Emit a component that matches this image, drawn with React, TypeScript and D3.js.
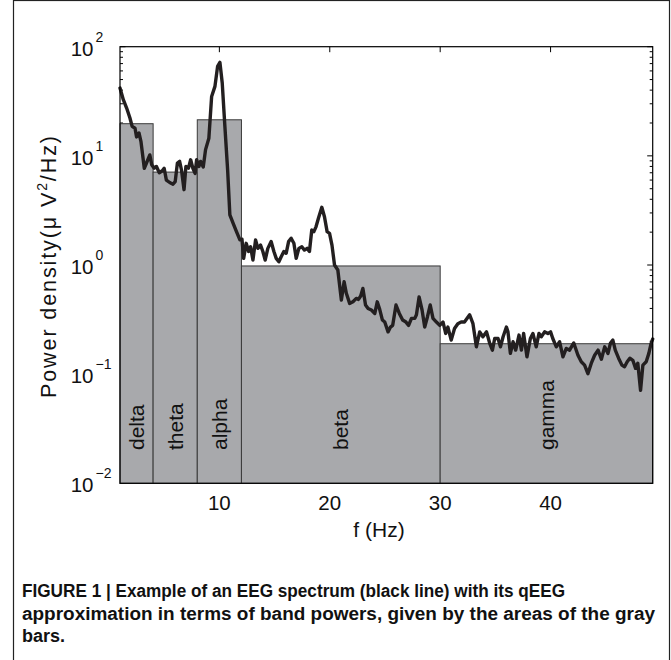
import React from "react";
import * as d3 from "d3";

// Spectrum (frequency in Hz, power density in µV²/Hz)
const freqs = [
  1.0, 1.3, 1.6, 1.9, 2.1, 2.36, 2.5, 2.72, 2.9, 3.2, 3.4, 3.7, 3.87, 4.1, 4.3, 4.56, 4.83, 5.0, 5.2, 5.5,
  5.8, 6.0, 6.2, 6.4, 6.57, 6.8, 6.97, 7.2, 7.4, 7.6, 7.8, 7.94, 8.15, 8.3, 8.54, 8.75, 9.05, 9.3, 9.6, 9.84,
  10.05, 10.26, 10.5, 10.75, 10.95, 11.25, 11.55, 11.86, 12.05, 12.2, 12.43, 12.65, 12.83, 13.04, 13.28, 13.49, 13.73, 13.94, 14.15, 14.39,
  14.69, 14.94, 15.15, 15.39, 15.6, 15.84, 16.05, 16.27, 16.5, 16.75, 16.96, 17.2, 17.47, 17.71, 17.95, 18.16, 18.37, 18.56, 18.76, 18.98,
  19.28, 19.52, 19.76, 19.98, 20.2, 20.43, 20.73, 21.05, 21.3, 21.5, 21.8, 22.1, 22.4, 22.6, 22.8, 23.0, 23.24, 23.47, 23.77, 24.08,
  24.3, 24.5, 24.77, 24.98, 25.28, 25.5, 25.7, 26.0, 26.3, 26.6, 26.9, 27.14, 27.4, 27.7, 27.85, 28.09, 28.36, 28.6, 28.85, 29.1,
  29.35, 29.66, 29.96, 30.26, 30.5, 30.7, 31.0, 31.3, 31.6, 31.9, 32.2, 32.67, 32.97, 33.28, 33.58, 33.87, 34.2, 34.5, 34.73, 34.94,
  35.24, 35.46, 35.7, 36.0, 36.14, 36.36, 36.6, 36.84, 37.14, 37.36, 37.56, 37.86, 38.17, 38.4, 38.7, 38.95, 39.16, 39.46, 39.76, 40.0,
  40.2, 40.52, 40.82, 41.12, 41.42, 41.72, 42.1, 42.48, 42.78, 43.08, 43.38, 43.69, 43.99, 44.3, 44.6, 44.9, 45.2, 45.43, 45.64, 45.86,
  46.16, 46.46, 46.7, 46.94, 47.18, 47.45, 47.7, 47.9, 48.15, 48.36, 48.66, 48.9, 49.1, 49.25,
];
const power = [
  41.8, 32.7, 27.4, 22.2, 18.6, 17.9, 14.9, 16.2, 13.5, 7.7, 8.6, 10.2, 8.3, 7.7, 8.0, 7.0, 7.3, 7.7, 6.0, 5.7,
  5.5, 5.8, 8.6, 8.9, 7.4, 4.9, 8.0, 7.7, 9.2, 7.7, 6.9, 9.2, 8.0, 8.9, 7.9, 11.4, 14.5, 35.0, 43.3, 66,
  71.8, 46.5, 18.6, 7.4, 2.88, 2.41, 2.02, 1.7, 1.72, 1.15, 1.58, 1.33, 1.47, 1.11, 1.7, 1.42, 1.52, 1.33, 1.11, 1.42,
  1.64, 1.33, 1.15, 1.07, 1.19, 1.33, 1.28, 1.64, 1.76, 1.58, 1.15, 1.42, 1.47, 1.37, 1.42, 1.33, 2.09, 2.02, 2.25, 2.69,
  3.38, 2.77, 2.02, 1.95, 1.52, 1.0, 0.9, 0.478, 0.703, 0.55, 0.445, 0.46, 0.494, 0.484, 0.52, 0.61, 0.43, 0.4, 0.387, 0.36,
  0.46, 0.4, 0.313, 0.3, 0.244, 0.27, 0.28, 0.43, 0.36, 0.313, 0.3, 0.28, 0.324, 0.324, 0.35, 0.51, 0.387, 0.27, 0.336, 0.43,
  0.324, 0.3, 0.28, 0.3, 0.236, 0.27, 0.205, 0.262, 0.29, 0.3, 0.3, 0.35, 0.29, 0.178, 0.244, 0.22, 0.244, 0.19, 0.166, 0.212,
  0.212, 0.178, 0.22, 0.27, 0.244, 0.155, 0.198, 0.166, 0.228, 0.166, 0.236, 0.144, 0.212, 0.236, 0.178, 0.236, 0.22, 0.244, 0.236, 0.244,
  0.212, 0.178, 0.198, 0.144, 0.172, 0.166, 0.193, 0.149, 0.13, 0.121, 0.101, 0.126, 0.149, 0.166, 0.137, 0.178, 0.155, 0.193, 0.205, 0.166,
  0.14, 0.121, 0.117, 0.13, 0.14, 0.134, 0.113, 0.126, 0.071, 0.121, 0.13, 0.155, 0.19, 0.21,
];

// qEEG band powers
const bandNames = ["delta", "theta", "alpha", "beta", "gamma"];
const bandStart = [1, 4, 8, 12, 30];
const bandEnd = [4, 8, 12, 30, 49.25];
const bandPower = [19.7, 7.1, 21.4, 0.98, 0.19];

const xTicks = [10, 20, 30, 40];
const yExponents = [-2, -1, 0, 1, 2];

const captionLines = [
  "FIGURE 1 | Example of an EEG spectrum (black line) with its qEEG",
  "approximation in terms of band powers, given by the areas of the gray",
  "bars.",
];

const FONT = "'Liberation Sans', Arial, Helvetica, sans-serif";

export default function App() {
  const W = 671;
  const H = 660;
  const left = 120;
  const right = 652.7;
  const top = 46.7;
  const bottom = 483.3;

  const x = d3.scaleLinear().domain([1, 49.25]).range([left, right]);
  const y = d3.scaleLog().domain([0.01, 100]).range([bottom, top]);

  const line = d3
    .line<number>()
    .x((_, i) => x(freqs[i]))
    .y((d) => y(d));

  const minorVals: number[] = [];
  for (let e = -2; e < 2; e++) {
    for (let m = 2; m <= 9; m++) minorVals.push(m * Math.pow(10, e));
  }

  const majorLen = 5.5;
  const minorLen = 3;

  return (
    <svg
      width={W}
      height={H}
      style={{ position: "absolute", left: 0, top: 0, background: "#fff" }}
      fontFamily={FONT}
    >
      <rect x={0} y={0} width={W} height={H} fill="#fff" />
      {/* outer frame */}
      <rect x={13.5} y={0.5} width={656} height={H + 20} fill="none" stroke="#222" strokeWidth={1.2} />

      {/* ticks (under bars) */}
      <g stroke="#000" strokeWidth={1}>
        {minorVals.map((v, i) => (
          <g key={"mn" + i}>
            <line x1={left} x2={left + minorLen} y1={y(v)} y2={y(v)} />
            <line x1={right} x2={right - minorLen} y1={y(v)} y2={y(v)} />
          </g>
        ))}
        {yExponents.map((e) => (
          <g key={"mj" + e}>
            <line x1={left} x2={left + majorLen} y1={y(Math.pow(10, e))} y2={y(Math.pow(10, e))} />
            <line x1={right} x2={right - majorLen} y1={y(Math.pow(10, e))} y2={y(Math.pow(10, e))} />
          </g>
        ))}
        {xTicks.map((t) => (
          <g key={"xt" + t}>
            <line x1={x(t)} x2={x(t)} y1={bottom} y2={bottom - majorLen} />
            <line x1={x(t)} x2={x(t)} y1={top} y2={top + majorLen} />
          </g>
        ))}
      </g>

      {/* band bars */}
      {bandNames.map((b, i) => (
        <rect
          key={b}
          x={x(bandStart[i])}
          y={y(bandPower[i])}
          width={x(bandEnd[i]) - x(bandStart[i])}
          height={bottom - y(bandPower[i])}
          fill="#a8a9ac"
          stroke="#3a3a3a"
          strokeWidth={1}
        />
      ))}

      {/* band labels */}
      {bandNames.map((b, i) => {
        const cx = x((bandStart[i] + bandEnd[i]) / 2) + 7.5;
        return (
          <text
            key={"l" + b}
            transform={`translate(${cx},450) rotate(-90)`}
            fontSize={21}
            fill="#111"
          >
            {b}
          </text>
        );
      })}

      {/* spectrum */}
      <path
        d={line(power) || ""}
        fill="none"
        stroke="#231f20"
        strokeWidth={3.4}
        strokeLinejoin="round"
        strokeLinecap="round"
      />

      {/* axes box */}
      <rect x={left} y={top} width={right - left} height={bottom - top} fill="none" stroke="#000" strokeWidth={1.2} />

      {/* y tick labels */}
      {yExponents.map((e) => {
        const yy = y(Math.pow(10, e));
        return (
          <g key={"yl" + e} fill="#111">
            <text x={93.5} y={yy + 9} fontSize={20.5} textAnchor="end">
              10
            </text>
            <text x={95.5} y={yy - 5} fontSize={14}>
              {e < 0 ? "\u2212" + Math.abs(e) : String(e)}
            </text>
          </g>
        );
      })}

      {/* x tick labels */}
      {xTicks.map((t) => (
        <text key={"xl" + t} x={x(t)} y={510} fontSize={20.5} textAnchor="middle" fill="#111">
          {t}
        </text>
      ))}

      {/* axis labels */}
      <text x={379} y={537} fontSize={21} textAnchor="middle" fill="#111">
        f (Hz)
      </text>
      <text
        transform={`translate(56,267) rotate(-90)`}
        fontSize={21.5}
        textAnchor="middle"
        fill="#111"
        textLength={262}
        lengthAdjust="spacing"
      >
        Power density(μ V<tspan fontSize={14} dy={-9}>2</tspan>
        <tspan dy={9}>/Hz)</tspan>
      </text>

      {/* caption */}
      {captionLines.map((l, i) => (
        <text
          key={"c" + i}
          x={22}
          y={597 + i * 22.5}
          fontSize={18}
          fontWeight="bold"
          fill="#111"
          textLength={i === 0 ? 543 : i === 1 ? 633 : undefined}
          lengthAdjust="spacingAndGlyphs"
        >
          {l}
        </text>
      ))}
    </svg>
  );
}
